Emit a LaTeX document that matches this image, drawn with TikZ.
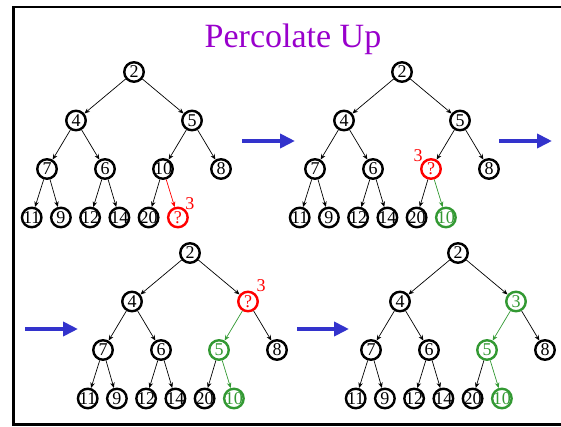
\documentclass[tikz,border=0pt]{standalone}
\usepackage{fontspec}
\setmainfont{Liberation Serif}
\usetikzlibrary{arrows.meta}
\definecolor{titlepurple}{HTML}{9900CC}
\definecolor{stepblue}{HTML}{3333CC}
\definecolor{movegreen}{HTML}{339933}
\definecolor{holered}{HTML}{FF0000}
% zero-width label so two-digit keys do not enlarge the circle
\newcommand\nv[1]{\makebox[0pt]{#1}}

\begin{document}
\begin{tikzpicture}[x=1pt,y=-1pt,
  hn/.style={circle, draw=black, line width=2.4pt, minimum size=19.5pt,
    inner sep=0pt, font=\fontsize{18}{18}\selectfont},
  hole/.style={draw=holered, text=holered},
  moved/.style={draw=movegreen, text=movegreen},
  link/.style={-{Stealth[length=5.5pt,width=4.5pt]}, line width=0.7pt},
  holelink/.style={link, holered},
  movelink/.style={link, movegreen},
  numlab/.style={text=holered, font=\fontsize{18}{18}\selectfont, inner sep=0pt},
  stepping/.style={stepblue, line width=4pt, -{Triangle[length=15pt,width=14pt]}}
]
\useasboundingbox (0,0) rectangle (561,427);

% frame (open on the right)
\draw[line width=2.4pt, line join=miter] (565,7) -- (13.5,7) -- (13.5,424.5) -- (565,424.5);

\node[font=\fontsize{34}{34}\selectfont, text=titlepurple, anchor=base] (title) at (293,48) {Percolate Up};

% ---------- heap 1: hole at the new leaf ----------
\begin{scope}[shift={(134,72)}]
  \node[hn] (a1) at (0,0) {\nv{2}};
  \node[hn] (a2) at (-58,48.5) {\nv{4}};
  \node[hn] (a3) at (58,48.5) {\nv{5}};
  \node[hn] (a4) at (-87,97) {\nv{7}};
  \node[hn] (a5) at (-29,97) {\nv{6}};
  \node[hn] (a6) at (29,97) {\nv{10}};
  \node[hn] (a7) at (87,97) {\nv{8}};
  \node[hn] (a8) at (-102.3,145.5) {\nv{11}};
  \node[hn] (a9) at (-73.1,145.5) {\nv{9}};
  \node[hn] (a10) at (-43.9,145.5) {\nv{12}};
  \node[hn] (a11) at (-14.6,145.5) {\nv{14}};
  \node[hn] (a12) at (14.6,145.5) {\nv{20}};
  \node[hn,hole] (a13) at (43.9,145.5) {\nv{?}};
\end{scope}
\foreach \p/\c in {1/2,1/3,2/4,2/5,3/6,3/7,4/8,4/9,5/10,5/11,6/12}
  \draw[link] (a\p) -- (a\c);
\draw[holelink] (a6) -- (a13);
\node[numlab] (alab) at ([shift={(12,-14)}]a13.center) {3};

% ---------- heap 2: 10 moves down ----------
\begin{scope}[shift={(402,72)}]
  \node[hn] (b1) at (0,0) {\nv{2}};
  \node[hn] (b2) at (-58,48.5) {\nv{4}};
  \node[hn] (b3) at (58,48.5) {\nv{5}};
  \node[hn] (b4) at (-87,97) {\nv{7}};
  \node[hn] (b5) at (-29,97) {\nv{6}};
  \node[hn,hole] (b6) at (29,97) {\nv{?}};
  \node[hn] (b7) at (87,97) {\nv{8}};
  \node[hn] (b8) at (-102.3,145.5) {\nv{11}};
  \node[hn] (b9) at (-73.1,145.5) {\nv{9}};
  \node[hn] (b10) at (-43.9,145.5) {\nv{12}};
  \node[hn] (b11) at (-14.6,145.5) {\nv{14}};
  \node[hn] (b12) at (14.6,145.5) {\nv{20}};
  \node[hn,moved] (b13) at (43.9,145.5) {\nv{10}};
\end{scope}
\foreach \p/\c in {1/2,1/3,2/4,2/5,3/6,3/7,4/8,4/9,5/10,5/11,6/12}
  \draw[link] (b\p) -- (b\c);
\draw[movelink] (b6) -- (b13);
\node[numlab] (blab) at ([shift={(-13,-13)}]b6.center) {3};

% ---------- heap 3: 5 moves down ----------
\begin{scope}[shift={(190,253)}]
  \node[hn] (c1) at (0,0) {\nv{2}};
  \node[hn] (c2) at (-58,48.5) {\nv{4}};
  \node[hn,hole] (c3) at (58,48.5) {\nv{?}};
  \node[hn] (c4) at (-87,97) {\nv{7}};
  \node[hn] (c5) at (-29,97) {\nv{6}};
  \node[hn,moved] (c6) at (29,97) {\nv{5}};
  \node[hn] (c7) at (87,97) {\nv{8}};
  \node[hn] (c8) at (-102.3,145.5) {\nv{11}};
  \node[hn] (c9) at (-73.1,145.5) {\nv{9}};
  \node[hn] (c10) at (-43.9,145.5) {\nv{12}};
  \node[hn] (c11) at (-14.6,145.5) {\nv{14}};
  \node[hn] (c12) at (14.6,145.5) {\nv{20}};
  \node[hn,moved] (c13) at (43.9,145.5) {\nv{10}};
\end{scope}
\foreach \p/\c in {1/2,1/3,2/4,2/5,3/7,4/8,4/9,5/10,5/11,6/12}
  \draw[link] (c\p) -- (c\c);
\draw[movelink] (c3) -- (c6);
\draw[movelink] (c6) -- (c13);
\node[numlab] (clab) at ([shift={(13,-16)}]c3.center) {3};

% ---------- heap 4: 3 settles ----------
\begin{scope}[shift={(458,253)}]
  \node[hn] (d1) at (0,0) {\nv{2}};
  \node[hn] (d2) at (-58,48.5) {\nv{4}};
  \node[hn,moved] (d3) at (58,48.5) {\nv{3}};
  \node[hn] (d4) at (-87,97) {\nv{7}};
  \node[hn] (d5) at (-29,97) {\nv{6}};
  \node[hn,moved] (d6) at (29,97) {\nv{5}};
  \node[hn] (d7) at (87,97) {\nv{8}};
  \node[hn] (d8) at (-102.3,145.5) {\nv{11}};
  \node[hn] (d9) at (-73.1,145.5) {\nv{9}};
  \node[hn] (d10) at (-43.9,145.5) {\nv{12}};
  \node[hn] (d11) at (-14.6,145.5) {\nv{14}};
  \node[hn] (d12) at (14.6,145.5) {\nv{20}};
  \node[hn,moved] (d13) at (43.9,145.5) {\nv{10}};
\end{scope}
\foreach \p/\c in {1/2,1/3,2/4,2/5,3/7,4/8,4/9,5/10,5/11,6/12}
  \draw[link] (d\p) -- (d\c);
\draw[movelink] (d3) -- (d6);
\draw[movelink] (d6) -- (d13);

% ---------- step arrows ----------
\coordinate (s1a) at (242,141); \coordinate (s1b) at (295,141);
\coordinate (s2a) at (499,141); \coordinate (s2b) at (552,141);
\coordinate (s3a) at (25,329);  \coordinate (s3b) at (78,329);
\coordinate (s4a) at (297,329); \coordinate (s4b) at (349,329);
\draw[stepping] (s1a) -- (s1b);
\draw[stepping] (s2a) -- (s2b);
\draw[stepping] (s3a) -- (s3b);
\draw[stepping] (s4a) -- (s4b);
\end{tikzpicture}
\end{document}
